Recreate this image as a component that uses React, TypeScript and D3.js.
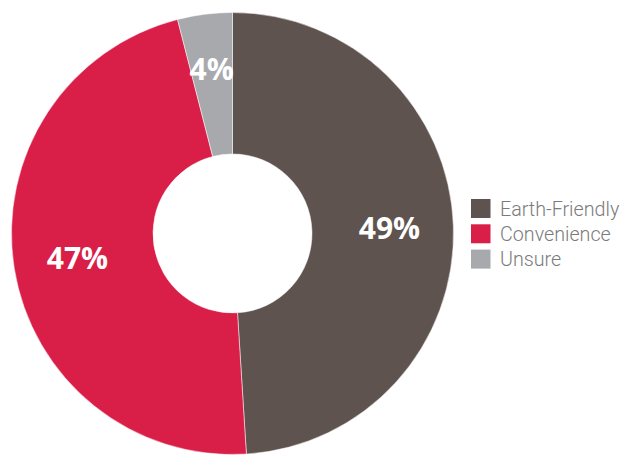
import React from "react";
import * as d3 from "d3";

const categories = ["Earth-Friendly", "Convenience", "Unsure"];
const values = [49, 47, 4];
const labels = ["49%", "47%", "4%"];
const colors = ["#5f534f", "#d91e48", "#a7a9ac"];

const W = 625;
const H = 455;

export default function App() {
  const cx = 232.5;
  const cy = 233.5;
  const outerR = 221;
  const innerR = 79.5;
  const data = categories.map((c, i) => ({ name: c, value: values[i], label: labels[i], color: colors[i] }));
  const pie = d3.pie<any>().value((d) => d.value).sort(null);
  const arcs = pie(data);
  const arc = d3.arc<any>().innerRadius(innerR).outerRadius(outerR);
  const labelPos = (a: any) => {
    const ang = (a.startAngle + a.endAngle) / 2;
    const r = a.data.value < 10 ? 166 : 157;
    return [Math.sin(ang) * r, -Math.cos(ang) * r];
  };
  const legendY = d3.scaleBand().domain(categories).range([199, 268.6]).paddingInner(0.25);
  return (
    <svg width={W} height={H} style={{ position: "absolute", left: 0, top: 0 }}>
      <g transform={`translate(${cx},${cy})`}>
        {arcs.map((a, i) => (
          <path key={i} d={arc(a) || ""} fill={a.data.color} stroke="#ffffff" strokeWidth={0.5} />
        ))}
        {arcs.map((a, i) => {
          const [x, y] = labelPos(a);
          return (
            <text
              key={"l" + i}
              x={x}
              y={y}
              dy="0.36em"
              textAnchor="middle"
              fill="#ffffff"
              fontFamily="'Open Sans', sans-serif"
              fontWeight={700}
              fontSize={30}
            >
              {a.data.label}
            </text>
          );
        })}
      </g>
      <g>
        {categories.map((c, i) => (
          <g key={c} transform={`translate(471,${legendY(c)})`}>
            <rect width={19.5} height={legendY.bandwidth()} fill={colors[i]} />
            <text
              x={29}
              y={legendY.bandwidth() / 2}
              dy="0.36em"
              fill="#7b7b7b"
              fontFamily="Roboto, sans-serif"
              fontWeight={300}
              fontSize={19.7}
            >
              {c}
            </text>
          </g>
        ))}
      </g>
    </svg>
  );
}
